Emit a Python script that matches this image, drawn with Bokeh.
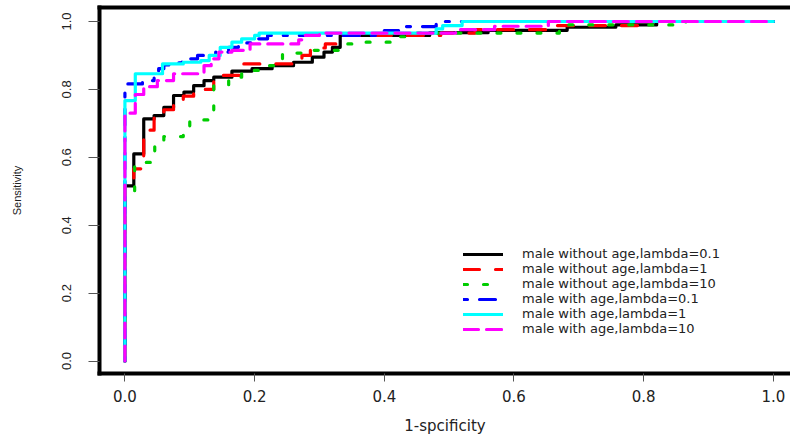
from bokeh.plotting import figure
from bokeh.models import Range1d, FixedTicker, LinearAxis, Legend, LegendItem
from bokeh.embed import file_html
from bokeh.resources import INLINE

# ---- data: step positions (1-specificity) and sensitivity after each step
black_x = [0, 0.0137, 0.029, 0.045, 0.06, 0.075, 0.091, 0.106, 0.122, 0.137, 0.165, 0.196, 0.227,
           0.26, 0.289, 0.307, 0.32, 0.332, 0.47, 0.56, 0.682, 0.757, 0.82]
black_y = [0.516, 0.61, 0.713, 0.723, 0.747, 0.782, 0.792, 0.811, 0.826, 0.836, 0.854, 0.861, 0.870,
           0.88, 0.895, 0.91, 0.924, 0.959, 0.967, 0.974, 0.983, 0.99, 1.0]

red_x = [0, 0.0137, 0.029, 0.045, 0.06, 0.075, 0.09, 0.106, 0.137, 0.147, 0.183, 0.273, 0.286,
         0.309, 0.332, 0.487, 0.54, 0.664, 0.81]
red_y = [0.523, 0.566, 0.68, 0.72, 0.74, 0.77, 0.78, 0.80, 0.83, 0.841, 0.875, 0.90, 0.922,
         0.934, 0.959, 0.966, 0.976, 0.988, 1.0]

green_x = [0, 0.015, 0.046, 0.06, 0.09, 0.1, 0.137, 0.16, 0.18, 0.195, 0.212, 0.243, 0.29,
           0.332, 0.355, 0.42, 0.44, 0.67, 0.68, 0.865]
green_y = [0.487, 0.585, 0.649, 0.661, 0.674, 0.71, 0.811, 0.836, 0.851, 0.856, 0.87, 0.907, 0.915,
           0.934, 0.939, 0.955, 0.966, 0.983, 0.99, 1.0]

blue_x = [0, 0.027, 0.045, 0.052, 0.06, 0.075, 0.088, 0.112, 0.14, 0.16, 0.175, 0.2, 0.22,
          0.40, 0.43, 0.48]
blue_y = [0.816, 0.826, 0.846, 0.861, 0.872, 0.878, 0.89, 0.90, 0.91, 0.924, 0.937, 0.949, 0.959,
          0.973, 0.985, 1.0]

cyan_x = [0, 0.016, 0.058, 0.09, 0.117, 0.13, 0.147, 0.165, 0.18, 0.2, 0.207, 0.48, 0.49, 0.52]
cyan_y = [0.767, 0.846, 0.875, 0.88, 0.885, 0.9, 0.924, 0.939, 0.949, 0.959, 0.966, 0.978, 0.988, 1.0]

magenta_x = [0, 0.016, 0.029, 0.05, 0.075, 0.122, 0.133, 0.145, 0.165, 0.193, 0.268, 0.278,
             0.30, 0.51, 0.57, 0.653]
magenta_y = [0.73, 0.785, 0.808, 0.826, 0.846, 0.87, 0.89, 0.91, 0.915, 0.934, 0.946, 0.959,
             0.966, 0.976, 0.986, 1.0]

labels = ["male without age,lambda=0.1", "male without age,lambda=1", "male without age,lambda=10",
          "male with age,lambda=0.1", "male with age,lambda=1", "male with age,lambda=10"]

x_ticks = [0.0, 0.2, 0.4, 0.6, 0.8, 1.0]
x_tick_labels = ["0.0", "0.2", "0.4", "0.6", "0.8", "1.0"]
y_ticks = [0.0, 0.2, 0.4, 0.6, 0.8, 1.0]
y_tick_labels = ["0.0", "0.2", "0.4", "0.6", "0.8", "1.0"]


def stair(xs, ys):
    px, py = [0.0], [0.0]
    level = 0.0
    for x, y in zip(xs, ys):
        px += [x, x]
        py += [level, y]
        level = y
    px.append(1.0)
    py.append(level)
    return px, py


p = figure(frame_width=691, frame_height=366,
           x_range=Range1d(-0.0392, 1.0264), y_range=Range1d(-0.0368, 1.0412),
           output_backend="svg", toolbar_location=None,
           min_border_left=99, min_border_right=0, min_border_top=7, min_border_bottom=64,
           background_fill_color="white", border_fill_color="white")
p.outline_line_color = None
p.xgrid.visible = False
p.ygrid.visible = False

series = [
    (black_x, black_y, "black", None),
    (red_x, red_y, "#ff0000", "16 16"),
    (green_x, green_y, "#00cd00", "4 16"),
    (blue_x, blue_y, "#0000ff", "4 12 16 12"),
    (cyan_x, cyan_y, "#00ffff", None),
    (magenta_x, magenta_y, "#ff00ff", "15 8"),
]
items = []
for (sx, sy, col, dash), lab in zip(series, labels):
    px, py = stair(sx, sy)
    kw = dict(line_color=col, line_width=3.2, line_cap="round", line_join="round")
    if dash:
        kw["line_dash"] = dash
    r = p.line(px, py, **kw)
    items.append(LegendItem(label=lab, renderers=[r]))

# axes
for ax in (p.xaxis[0], p.yaxis[0]):
    ax.axis_line_width = 4
    ax.axis_line_color = "black"
    ax.axis_line_cap = "square"
    ax.major_tick_line_color = "#555555"
    ax.major_tick_line_width = 1
    ax.major_tick_in = 0
    ax.minor_tick_in = 0
    ax.minor_tick_out = 0
    ax.major_label_text_color = "#222222"
    ax.axis_label_text_color = "#222222"
    ax.axis_label_text_font_style = "normal"

p.xaxis.ticker = FixedTicker(ticks=x_ticks)
p.xaxis.major_label_overrides = dict(zip(x_ticks, x_tick_labels))
p.xaxis.major_tick_out = 8
p.xaxis.major_label_standoff = 8
p.xaxis.major_label_text_font = "DejaVu Sans"
p.xaxis.major_label_text_font_size = "15px"
p.xaxis.axis_label = "1-spcificity"
p.xaxis.axis_label_text_font = "DejaVu Sans"
p.xaxis.axis_label_text_font_size = "15px"
p.xaxis.axis_label_standoff = 12

p.yaxis.ticker = FixedTicker(ticks=y_ticks)
p.yaxis.major_label_overrides = dict(zip(y_ticks, y_tick_labels))
p.yaxis.major_tick_out = 11
p.yaxis.major_label_standoff = 17
p.yaxis.major_label_orientation = "vertical"
p.yaxis.major_label_text_font = "Liberation Sans"
p.yaxis.major_label_text_font_size = "13px"
p.yaxis.axis_label = "Sensitivity"
p.yaxis.axis_label_text_font = "Liberation Sans"
p.yaxis.axis_label_text_font_size = "11px"
p.yaxis.axis_label_standoff = 37

top = LinearAxis(ticker=FixedTicker(ticks=[]), axis_line_width=4, axis_line_color="black",
                 axis_line_cap="square", major_tick_out=0, major_tick_in=0,
                 minor_tick_out=0, minor_tick_in=0, major_label_standoff=0)
p.add_layout(top, "above")

legend = Legend(items=items, location=(364, 37), glyph_width=40, glyph_height=14,
                label_height=14, label_standoff=19, spacing=0, padding=0, margin=0,
                border_line_color=None, background_fill_alpha=0,
                label_text_font="DejaVu Sans", label_text_font_size="13px",
                label_text_color="#222222")
p.add_layout(legend)

open("out.html", "w").write(file_html(p, INLINE))
